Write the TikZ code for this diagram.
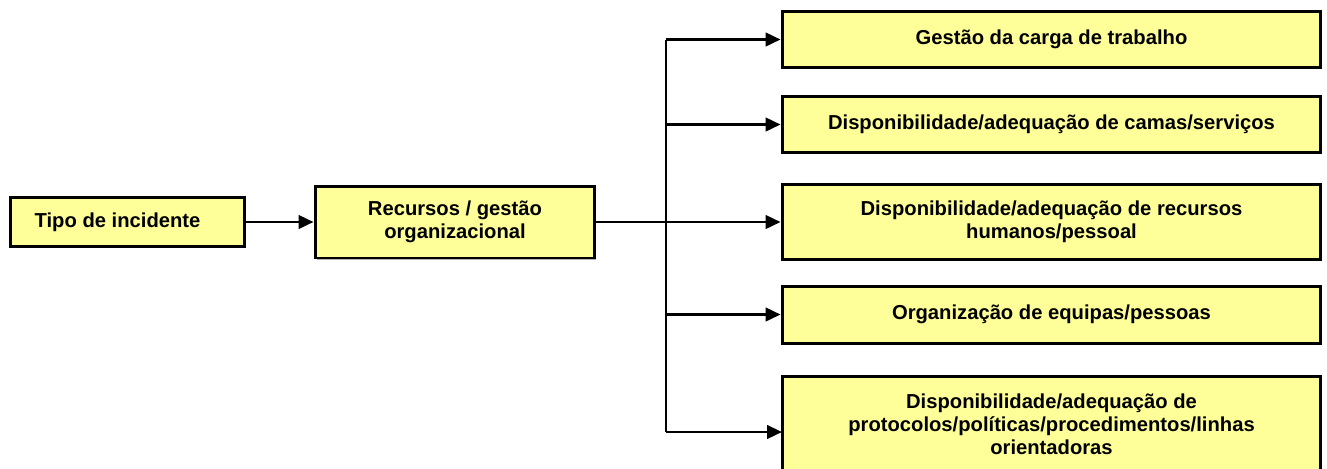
\documentclass[tikz,border=0pt]{standalone}
\usepackage{fontspec}
\setmainfont{Liberation Sans}
\usepackage{tikz}
\usetikzlibrary{arrows.meta, positioning, shadows}
\usepackage{xcolor}
\definecolor{boxfill}{HTML}{FFFF99}

\begin{document}
\begin{tikzpicture}[x=0.02cm, y=-0.02cm,
    box/.style={draw=black, line width=1.7pt, fill=boxfill, align=center,
        font=\fontsize{11.5}{13.1}\selectfont\bfseries, inner sep=2pt,
        drop shadow={shadow xshift=0.03cm, shadow yshift=-0.03cm,
            fill=gray!60, opacity=1}},
    line/.style={draw=black, line width=1.6pt},
    arrow/.style={line, -{Triangle[length=0.3cm, width=0.27cm]}}]
    \useasboundingbox (0,0) rectangle (1327,468);

    \node[box, minimum width=4.7cm, minimum height=0.98cm] (tipo) at (127.5,222) {Tipo de incidente\hspace{0.4cm}};
    \node[box, minimum width=5.6cm, minimum height=1.44cm] (recursos) at (455,222) {Recursos / gest\~ao\\organizacional};

    \node[box, minimum width=10.78cm, minimum height=1.12cm] (carga) at (1051.5,39.5) {Gestão da carga de trabalho};
    \node[box, minimum width=10.78cm, minimum height=1.12cm] (camas) at (1051.5,124.5) {Disponibilidade/adequação de camas/serviços};
    \node[box, minimum width=10.78cm, minimum height=1.5cm] (rh) at (1051.5,222) {Disponibilidade/adequação de recursos\\humanos/pessoal};
    \node[box, minimum width=10.78cm, minimum height=1.14cm] (equipas) at (1051.5,314.5) {Organização de equipas/pessoas};
    \node[box, minimum width=10.78cm, minimum height=1.92cm] (protocolos) at (1051.5,424) {Disponibilidade/adequação de\\protocolos/políticas/procedimentos/linhas\\orientadoras};

    \coordinate (bus) at (666,222);
    \coordinate (protin) at (782,432);

    \draw[arrow] (tipo) -- (recursos);
    \draw[arrow] (recursos) -- (rh);
    \draw[line] (bus |- carga.west) -- (bus |- protin);
    \foreach \n in {carga, camas, equipas}
        \draw[arrow] (bus |- \n.west) -- (\n.west);
    \draw[arrow] (bus |- protin) -- (protin);

\end{tikzpicture}
\end{document}
